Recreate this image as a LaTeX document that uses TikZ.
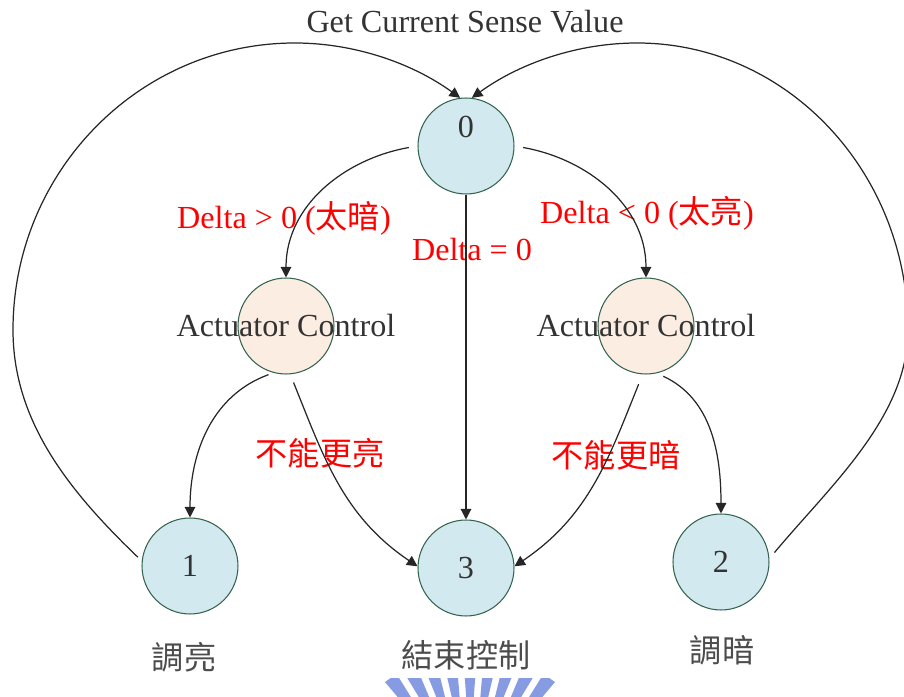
\documentclass[tikz,border=0pt]{standalone}
\usepackage{fontspec}
\setmainfont{Liberation Serif}
\newfontfamily\cjk{Noto Sans CJK TC}
\usetikzlibrary{arrows.meta}
\definecolor{stateblue}{RGB}{210,233,239}
\definecolor{actpeach}{RGB}{251,237,226}
\definecolor{rimgreen}{RGB}{52,100,78}
\definecolor{logoblue}{RGB}{135,155,226}

\begin{document}
\begin{tikzpicture}[x=0.02cm,y=0.02cm,
    font=\fontsize{18.3}{21}\selectfont,
    state/.style={circle,draw=rimgreen,line width=0.6pt,fill=stateblue,
      minimum size=1.92cm,inner sep=0pt,text=black!80},
    act/.style={state,fill=actpeach},
    flow/.style={-{Triangle[length=6pt,width=6pt]},line width=0.7pt,black!85},
    cond/.style={text=red},
    tag/.style={text=black!70}]
    \useasboundingbox (0,0) rectangle (904,697);
    \clip (0,0) rectangle (904,697);

    % states
    \node[state,text depth=22pt] (n0) at (466,551) {0};
    \node[act] (a1) at (286,371) {};
    \node[act] (a2) at (646,371) {};
    \node[state] (n1) at (190,131) {1};
    \node[state] (n3) at (466,129) {3};
    \node[state] (n2) at (721,135) {2};
    \node[text=black!80] (a1txt) at (a1) {Actuator Control};
    \node[text=black!80] (a2txt) at (a2) {Actuator Control};

    % texts
    \node[text=black!80] (title) at (465,675) {Get Current Sense Value};
    \node[cond] (dpos) at (284,479) {Delta > 0 ({\cjk 太暗})};
    \node[cond] (dneg) at (647,484) {Delta < 0 ({\cjk 太亮})};
    \node[cond] (dzero) at (472,447) {Delta = 0};
    \node[cond] (nobright) at (320,244) {\cjk 不能更亮};
    \node[cond] (nodark) at (616,242) {\cjk 不能更暗};
    \node[tag] (t1) at (184,40) {\cjk 調亮};
    \node[tag] (t3) at (466,42) {\cjk 結束控制};
    \node[tag] (t2) at (722,47) {\cjk 調暗};

    % back to state 0
    \draw[flow,shorten <=3pt] (n1.174) .. controls (70,205) and (13,275) .. (13,367)
        .. controls (13,525) and (139,654) .. (295,654)
        .. controls (354,654) and (412,634) .. (n0.97);
    \draw[flow,shorten <=4.5pt] (n2.4) .. controls (830,211) and (908,280) .. (908,367)
        .. controls (908,525) and (787,654) .. (637,654)
        .. controls (578,654) and (520,634) .. (n0.83);

    % transitions
    \draw[flow,shorten <=5pt] (n0.west) to[out=190,in=90] (a1.north);
    \draw[flow,shorten <=5pt] (n0.east) to[out=-10,in=90] (a2.north);
    \draw[flow] (n0) -- (n3);
    \draw[flow,shorten <=3pt] (a1.255) to[out=200,in=90] (n1.north);
    \draw[flow,shorten <=5pt] (a1.275) to[out=-68,in=146] (n3.178);
    \draw[flow,shorten <=6pt] (a2.266) to[out=-112,in=34] (n3.2);
    \draw[flow,shorten <=4pt] (a2.283) to[out=-25,in=90] (n2.north);

    % logo teeth at the bottom edge
    \begin{scope}
        \clip (380,0) rectangle (560,18);
        \foreach \a in {54,63,...,126}
            \fill[logoblue] ([shift={(470,-90)}]\a-2.2:80) -- ([shift={(470,-90)}]\a-3:135)
                -- ([shift={(470,-90)}]\a+3:135) -- ([shift={(470,-90)}]\a+2.2:80) -- cycle;
    \end{scope}
\end{tikzpicture}
\end{document}
